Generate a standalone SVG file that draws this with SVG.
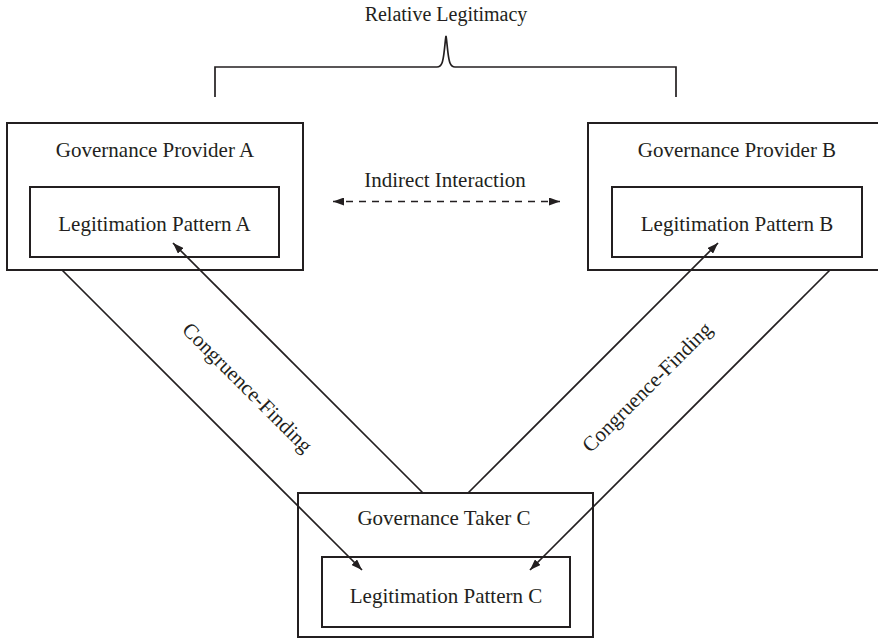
<svg xmlns="http://www.w3.org/2000/svg" width="878" height="640" viewBox="0 0 878 640">
<style>
.box{fill:none;stroke:#231f20;stroke-width:2}
.ln{fill:none;stroke:#231f20;stroke-width:1.7}
text{font-family:"Liberation Serif","Times New Roman",serif;font-size:21px;fill:#231f20;text-anchor:middle}
</style>
<defs>
<marker id="ah" markerUnits="userSpaceOnUse" markerWidth="12" markerHeight="8" refX="11" refY="4" orient="auto-start-reverse">
<path d="M0,0 L11,4 L0,8 z" fill="#231f20"/>
</marker>
</defs>
<rect width="878" height="640" fill="#fff"/>
<g id="relative-legitimacy">
<text x="446" y="21" style="font-size:20px">Relative Legitimacy</text>
<path class="ln" d="M215,97 V67 H437 C442,67 443,61 444,53 C445,45 445.5,38 446,36 C446.5,38 447,45 448,53 C449,61 450,67 455,67 H676 V97"/>
</g>
<g id="provider-a">
<rect class="box" x="7" y="123" width="296" height="147"/>
<text x="155" y="157">Governance Provider A</text>
</g>
<g id="pattern-a">
<rect class="box" x="30" y="187" width="249" height="70"/>
<text x="154.5" y="231">Legitimation Pattern A</text>
</g>
<g id="provider-b">
<rect class="box" x="588" y="123" width="296" height="147"/>
<text x="737" y="157">Governance Provider B</text>
</g>
<g id="pattern-b">
<rect class="box" x="612" y="187" width="250" height="70"/>
<text x="737" y="231">Legitimation Pattern B</text>
</g>
<g id="taker-c">
<rect class="box" x="298" y="493" width="295" height="144"/>
<text x="444" y="525">Governance Taker C</text>
</g>
<g id="pattern-c">
<rect class="box" x="322" y="557" width="248" height="70"/>
<text x="446" y="603">Legitimation Pattern C</text>
</g>
<g id="connectors">
<line class="ln" x1="333" y1="201.5" x2="560" y2="201.5" stroke-dasharray="7,6" marker-start="url(#ah)" marker-end="url(#ah)"/>
<text x="445" y="187">Indirect Interaction</text>
<line class="ln" x1="62" y1="270" x2="362" y2="570" marker-end="url(#ah)"/>
<line class="ln" x1="423" y1="493" x2="173" y2="243" marker-end="url(#ah)"/>
<line class="ln" x1="468" y1="493" x2="718" y2="243" marker-end="url(#ah)"/>
<line class="ln" x1="830" y1="270" x2="530" y2="570" marker-end="url(#ah)"/>
<text transform="translate(242.5,392.5) rotate(45)">Congruence-Finding</text>
<text transform="translate(652,392) rotate(-45)">Congruence-Finding</text>
</g>
</svg>
